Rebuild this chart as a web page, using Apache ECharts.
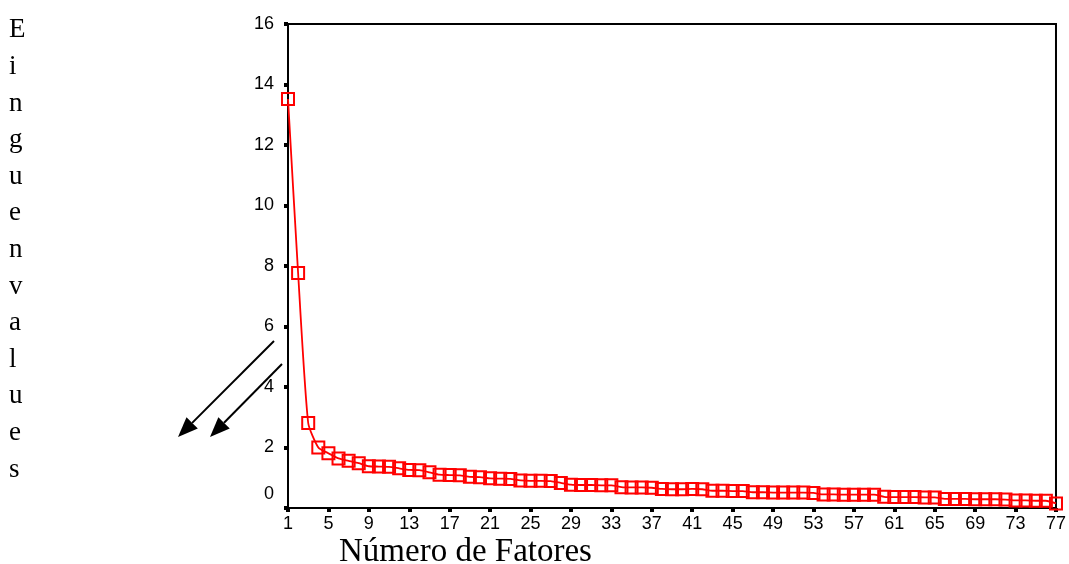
<!DOCTYPE html>
<html>
<head>
<meta charset="utf-8">
<script src="https://cdn.jsdelivr.net/npm/echarts@6/dist/echarts.min.js"></script>
<style>html,body{margin:0;padding:0;background:#fff}#c{width:1069px;height:564px}</style>
</head>
<body>
<div id="c"></div>
<script>
var factorNumbers = [1,2,3,4,5,6,7,8,9,10,11,12,13,14,15,16,17,18,19,20,21,22,23,24,25,26,27,28,29,30,31,32,33,34,35,36,37,38,39,40,41,42,43,44,45,46,47,48,49,50,51,52,53,54,55,56,57,58,59,60,61,62,63,64,65,66,67,68,69,70,71,72,73,74,75,76,77];
var eigenvalues = [13.52,7.77,2.81,2.00,1.81,1.64,1.56,1.48,1.38,1.37,1.36,1.31,1.26,1.25,1.18,1.10,1.09,1.08,1.03,1.02,0.98,0.97,0.96,0.91,0.90,0.90,0.89,0.83,0.77,0.76,0.76,0.75,0.75,0.69,0.68,0.68,0.67,0.63,0.62,0.62,0.63,0.62,0.57,0.57,0.56,0.56,0.52,0.52,0.51,0.51,0.51,0.51,0.50,0.45,0.45,0.44,0.44,0.44,0.44,0.37,0.36,0.36,0.36,0.35,0.35,0.30,0.30,0.30,0.29,0.29,0.29,0.28,0.25,0.25,0.24,0.24,0.15];
var yTitle = "Einguenvalues";
var xTitle = "Número de Fatores";

var chart = echarts.init(document.getElementById('c'), null, {renderer: 'canvas'});

function arrow(x1, y1, x2, y2) {
  var ang = Math.atan2(y2 - y1, x2 - x1);
  var L = 20, W = 8;
  var bx = x2 - L * Math.cos(ang), by = y2 - L * Math.sin(ang);
  var px = -Math.sin(ang) * W, py = Math.cos(ang) * W;
  return [
    {type: 'line', shape: {x1: x1, y1: y1, x2: bx, y2: by}, style: {stroke: '#000', lineWidth: 2}},
    {type: 'polygon', shape: {points: [[x2, y2], [bx + px, by + py], [bx - px, by - py]]}, style: {fill: '#000'}}
  ];
}

var graphics = [
  {type: 'text', left: 9, top: 12, style: {text: yTitle.split('').join('\n'), font: '27px "Liberation Serif", "Times New Roman", serif', fill: '#000', lineHeight: 36.6, align: 'left'}},
  {type: 'text', left: 339, top: 536, style: {text: xTitle, font: '33px "Liberation Serif", "Times New Roman", serif', fill: '#000'}}
].concat(arrow(274, 341, 178, 437)).concat(arrow(282, 364, 210, 437));

var labelFont = '"Liberation Sans", Arial, sans-serif';

chart.setOption({
  animation: false,
  backgroundColor: '#fff',
  grid: {left: 288, right: 11, top: 24, bottom: 56, show: true, borderColor: '#000', borderWidth: 2, backgroundColor: 'transparent'},
  xAxis: {
    type: 'category',
    data: factorNumbers,
    boundaryGap: false,
    axisLine: {lineStyle: {color: '#000', width: 2}},
    axisTick: {show: true, interval: 3, length: 4, lineStyle: {color: '#000', width: 4}},
    axisLabel: {interval: 3, color: '#000', fontSize: 18, fontFamily: labelFont, margin: 7},
    splitLine: {show: false}
  },
  yAxis: {
    type: 'value',
    min: 0, max: 16, interval: 2,
    axisLine: {show: true, lineStyle: {color: '#000', width: 2}},
    axisTick: {show: true, length: 4, lineStyle: {color: '#000', width: 4}},
    axisLabel: {
      color: '#000', fontSize: 18, fontFamily: labelFont, margin: 14,
      formatter: function (v) { return v === 0 ? '{z|0}' : String(v); },
      rich: {z: {fontSize: 18, fontFamily: labelFont, color: '#000', padding: [0, 0, 28, 0]}}
    },
    splitLine: {show: false}
  },
  series: [{
    type: 'line',
    data: eigenvalues,
    smooth: 0.2,
    clip: false,
    symbol: 'rect',
    symbolSize: 12,
    showAllSymbol: true,
    lineStyle: {color: '#ff0000', width: 1.8},
    itemStyle: {color: 'rgba(0,0,0,0)', borderColor: '#ff0000', borderWidth: 2},
    emphasis: {disabled: true}
  }],
  graphic: graphics
});
</script>
</body>
</html>
